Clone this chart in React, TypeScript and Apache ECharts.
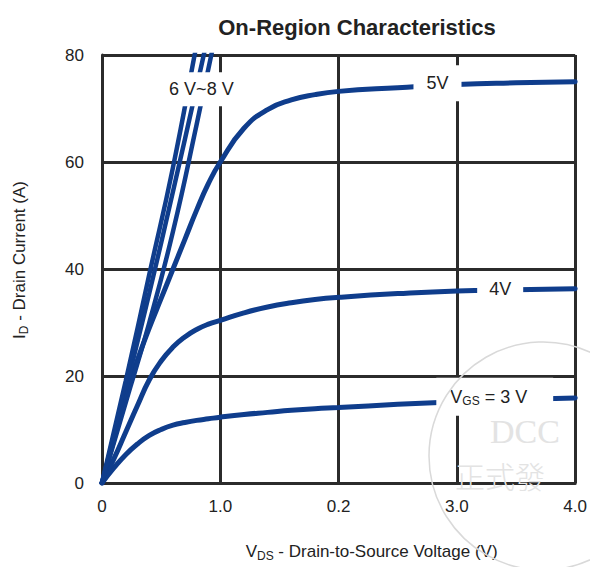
import React, { useEffect, useRef } from 'react';
import * as echarts from 'echarts';

// ---- data ----
const vds = [0, 0.1, 0.2, 0.3, 0.4, 0.5, 0.6, 0.7, 0.8, 0.9, 1.0, 1.2, 1.4, 1.6, 1.8, 2.0, 2.5, 3.0, 3.5, 4.0];
const id3V = [0, 2.8, 5.3, 7.3, 8.9, 10.0, 10.8, 11.3, 11.7, 12.0, 12.3, 12.8, 13.2, 13.6, 13.9, 14.1, 14.7, 15.2, 15.6, 15.9];
const id4V = [0, 4.5, 9.5, 14.5, 19.3, 22.8, 25.4, 27.3, 28.7, 29.7, 30.4, 31.8, 32.9, 33.7, 34.3, 34.7, 35.4, 35.9, 36.1, 36.3];
const id5V = [0, 8, 16, 23, 29, 34.5, 40, 45.5, 51, 56, 60, 66.3, 69.8, 71.6, 72.6, 73.2, 73.9, 74.5, 74.8, 75.0];

const bundleVds = [0, 0.2, 0.4, 0.6, 0.8, 1.0];
const id6V = [0, 15, 30, 47, 67, 88];
const id7V = [0, 17.5, 35.5, 54.5, 74, 94];
const id8V = [0, 19, 39, 59, 82, 105];

const xTickLabels = ['0', '1.0', '0.2', '3.0', '4.0'];

const curveLabels = ['6 V~8 V', '5V', '4V', 'V{sub|GS} = 3 V'];
const labelVds = [0.84, 2.836, 3.366, 3.32];
const labelId = [73.6, 74.7, 36.3, 16.1];

const titleText = 'On-Region Characteristics';
const xName = 'V{sub|DS} - Drain-to-Source Voltage (V)';
const yName = 'I{sub|D} - Drain Current (A)';

// ---- styles ----
const BLUE = '#0f3d8c';
const GRID = '#2b2b2b';
const FONT = '"Liberation Sans", Arial, sans-serif';
const labelPads = [
  [8, 6, 8, 6],
  [9, 13, 9, 13],
  [8, 12, 8, 12],
  [10, 26, 10, 14],
];

export default function App() {
  const ref = useRef<HTMLDivElement>(null);
  useEffect(() => {
    const chart = echarts.init(ref.current!, null, { renderer: 'svg' });
    const pair = (xs: number[], ys: number[]) => xs.map((x, i) => [x, ys[i]]);
    const curve = (name: string, xs: number[], ys: number[], width: number) => ({
      type: 'line',
      name,
      data: pair(xs, ys),
      smooth: true,
      symbol: 'none',
      lineStyle: { color: BLUE, width, cap: 'round' },
      clip: true,
      silent: true,
      z: 2,
    });
    const subRich = { sub: { fontSize: 12, lineHeight: 12, padding: [9, 0, 0, 0], fontFamily: FONT, color: '#222' } };

    const option: any = {
      animation: false,
      backgroundColor: '#fff',
      title: {
        text: titleText,
        left: 352,
        textAlign: 'center',
        top: 11,
        textStyle: { fontFamily: FONT, fontSize: 22, fontWeight: 'bold', color: '#222' },
      },
      grid: { left: 102, right: 12, top: 55, bottom: 84, containLabel: false },
      xAxis: {
        type: 'value',
        min: 0,
        max: 4,
        interval: 1,
        name: xName,
        nameLocation: 'middle',
        nameGap: 60,
        nameTextStyle: { fontFamily: FONT, fontSize: 17, color: '#222', padding: [0, 0, 0, 66], rich: subRich },
        axisLine: { show: true, lineStyle: { color: GRID, width: 3 } },
        axisTick: { show: false },
        splitLine: { show: true, lineStyle: { color: GRID, width: 3 } },
        axisLabel: {
          fontFamily: FONT,
          fontSize: 17,
          color: '#222',
          margin: 15,
          formatter: (v: number) => xTickLabels[Math.round(v)],
        },
      },
      yAxis: {
        type: 'value',
        min: 0,
        max: 80,
        interval: 20,
        name: yName,
        nameLocation: 'middle',
        nameGap: 74,
        nameRotate: 90,
        nameTextStyle: { fontFamily: FONT, fontSize: 17, color: '#222', padding: [0, 0, 0, 18], rich: subRich },
        axisLine: { show: true, lineStyle: { color: GRID, width: 3 } },
        axisTick: { show: false },
        splitLine: { show: true, lineStyle: { color: GRID, width: 3 } },
        axisLabel: { fontFamily: FONT, fontSize: 17, color: '#222', margin: 18 },
      },
      series: [
        curve('3V', vds, id3V, 5),
        curve('4V', vds, id4V, 5),
        curve('5V', vds, id5V, 5),
        curve('6V', bundleVds, id6V, 4.5),
        curve('7V', bundleVds, id7V, 4.5),
        curve('8V', bundleVds, id8V, 4.5),
        {
          type: 'scatter',
          symbolSize: 1,
          itemStyle: { color: 'rgba(0,0,0,0)', opacity: 1 },
          silent: true,
          z: 10,
          label: {
            show: true,
            position: 'inside',
            fontFamily: FONT,
            fontSize: 18,
            color: '#222',
            opacity: 1,
            backgroundColor: '#fff',
            rich: subRich,
          },
          data: curveLabels.map((t, i) => ({
            value: [labelVds[i], labelId[i]],
            label: { formatter: t, padding: labelPads[i] },
          })),
        },
      ],
      graphic: [
        {
          type: 'circle',
          silent: true,
          z: 100,
          shape: { cx: 543, cy: 456, r: 114 },
          style: { fill: 'none', stroke: '#d9d9d9', lineWidth: 1.5 },
        },
        {
          type: 'text',
          silent: true,
          z: 100,
          x: 490,
          y: 414,
          style: { text: 'DCC', fontFamily: '"Liberation Serif", serif', fontSize: 34, fill: '#e3e3e3' },
        },
        {
          type: 'text',
          silent: true,
          z: 100,
          x: 455,
          y: 460,
          style: { text: '正式發', fontFamily: '"Noto Sans CJK TC", sans-serif', fontSize: 30, fontWeight: 300, fill: '#e3e3e3' },
        },
      ],
    };
    chart.setOption(option);
    return () => chart.dispose();
  }, []);
  return <div ref={ref} style={{ position: 'fixed', left: 0, top: 0, width: 590, height: 567 }} />;
}
